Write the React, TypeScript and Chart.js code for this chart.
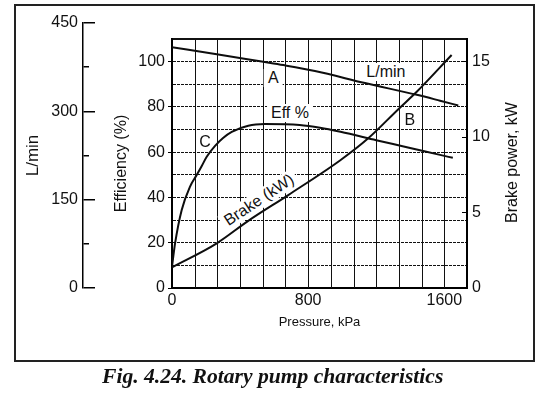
import React, { useEffect, useRef, useState } from "react";
import { Chart, registerables } from "chart.js";

Chart.register(...registerables);

// ---------------- data ----------------
// Efficiency curve C (%), against pressure (kPa)
const effPressure = [0, 18, 57, 106, 145, 174, 204, 253, 300, 351, 448, 546, 750, 870, 990, 1200, 1380, 1575, 1650];
const efficiency = [9.4, 19.7, 34.5, 44.8, 49.9, 53.8, 58, 62.8, 66.3, 69, 71.7, 72.4, 72, 70.8, 69, 65.3, 62.2, 58.8, 57.5];

// Brake power curve B (kW)
const brakePressure = [0, 263, 448, 683, 987, 1153, 1330, 1438, 1643];
const brakePower = [1.37, 2.96, 4.45, 6.16, 8.45, 9.92, 11.85, 13.0, 15.44];

// Flow curve A (L/min)
const flowPressure = [0, 263, 527, 654, 840, 1134, 1438, 1575, 1682];
const flowRate = [409, 397, 384.5, 378.5, 368.5, 348, 328, 318, 310];

// Axis ticks
const pressureGrid = Array.from({ length: 14 }, (_, i) => (i * 800) / 6);
const pressureLabelled = [0, 800, 1600];
const pressureMax = (13 * 800) / 6;
const effTicks = [0, 10, 20, 30, 40, 50, 60, 70, 80, 90, 100, 110];
const effLabelled = [0, 20, 40, 60, 80, 100];
const effMax = 110;
const brakeTicks = [0, 5, 10, 15];
const brakeMax = 16.5;
const flowTicks = [0, 75, 150, 225, 300, 375, 450];
const flowLabelled = [0, 150, 300, 450];
const flowMax = 450;

// Curve labels (anchored in pressure / efficiency units)
const curveLabels = [
  { text: "A", pressure: 595, eff: 92.6, angle: 0 },
  { text: "L/min", pressure: 1257, eff: 95.6, angle: 0 },
  { text: "Eff %", pressure: 693, eff: 77.5, angle: 0 },
  { text: "B", pressure: 1398, eff: 74.4, angle: 0 },
  { text: "C", pressure: 194, eff: 64.4, angle: 0 },
  { text: "Brake (kW)", pressure: 511, eff: 38.9, angle: -33.5 },
];
const unboxedLabels = ["B", "C"];

// ---------------- layout constants ----------------
const W = 548;
const H = 397;
const FLOW_W = 100;
const PLOT_TOP = 39;
const PLOT_BOTTOM = 288;
const FLOW_AXIS_TOP = 23;
const FONT = '"Liberation Sans", Arial, Helvetica, sans-serif';
const INK = "#111";
const GRID = "#111";

Chart.defaults.font.family = FONT;
Chart.defaults.color = INK;

const flowMaxInPlot = (flowMax * (PLOT_BOTTOM - PLOT_TOP)) / (PLOT_BOTTOM - FLOW_AXIS_TOP);

const near = (a: number, b: number) => Math.abs(a - b) < 1e-6;

const rightTitlePlugin = {
  id: "rightTitle",
  afterDraw(chart: any) {
    const s = chart.scales.yB;
    const { ctx, chartArea } = chart;
    ctx.save();
    ctx.translate(s.left + 46, (chartArea.top + chartArea.bottom) / 2 - 1);
    ctx.rotate(-Math.PI / 2);
    ctx.font = `16px ${FONT}`;
    ctx.textAlign = "center";
    ctx.textBaseline = "middle";
    ctx.fillStyle = INK;
    ctx.fillText("Brake power, kW", 0, 0);
    ctx.restore();
  },
};

const toPoints = (xs: number[], ys: number[]) => xs.map((x, i) => ({ x, y: ys[i] }));

const curveStyle = {
  borderColor: "#0d0d0d",
  borderWidth: 2,
  pointRadius: 0,
  fill: false,
  cubicInterpolationMode: "monotone" as const,
};

type Overlay = {
  lines: number[];
  top: number;
  bottom: number;
  labels: { text: string; x: number; y: number; angle: number }[];
};

export default function App() {
  const mainRef = useRef<HTMLCanvasElement>(null);
  const flowRef = useRef<HTMLCanvasElement>(null);
  const [overlay, setOverlay] = useState<Overlay | null>(null);

  useEffect(() => {
    const main = new Chart(mainRef.current as HTMLCanvasElement, {
      type: "line",
      data: {
        datasets: [
          { label: "Eff %", data: toPoints(effPressure, efficiency), yAxisID: "y", ...curveStyle },
          { label: "Brake (kW)", data: toPoints(brakePressure, brakePower), yAxisID: "yB", ...curveStyle },
          { label: "L/min", data: toPoints(flowPressure, flowRate), yAxisID: "yL", ...curveStyle },
        ],
      },
      options: {
        responsive: false,
        animation: false,
        devicePixelRatio: 1,
        parsing: false,
        layout: { padding: { left: 108, right: 21, top: PLOT_TOP, bottom: 63 } },
        plugins: { legend: { display: false }, tooltip: { enabled: false }, title: { display: false } },
        scales: {
          x: {
            type: "linear",
            min: 0,
            max: pressureMax,
            afterBuildTicks: (s: any) => {
              s.ticks = pressureGrid.map((v) => ({ value: v }));
            },
            afterFit: (s: any) => {
              s.height = 46;
            },
            ticks: {
              autoSkip: false,
              maxTicksLimit: 100,
              maxRotation: 0,
              padding: 3,
              font: { size: 16 },
              color: INK,
              callback: (v: any) => {
                const r = Math.round(Number(v));
                return pressureLabelled.some((p) => near(p, Number(v))) ? String(r) : "";
              },
            },
            grid: { display: false, drawTicks: false },
            border: { display: true, color: "#000", width: 2 },
            title: {
              display: true,
              text: "Pressure, kPa",
              font: { size: 13 },
              color: INK,
              padding: { top: 4, bottom: 4 },
            },
          },
          y: {
            type: "linear",
            position: "left",
            min: 0,
            max: effMax,
            afterBuildTicks: (s: any) => {
              s.ticks = effTicks.map((v) => ({ value: v }));
            },
            afterFit: (s: any) => {
              s.width = 64;
            },
            ticks: {
              maxTicksLimit: 100,
              padding: 3,
              font: { size: 16 },
              color: INK,
              callback: (v: any) => (effLabelled.includes(Number(v)) ? String(v) : ""),
            },
            grid: {
              color: GRID,
              lineWidth: (c: any) => (c.tick && c.tick.value === effMax ? 2 : 1),
              tickLength: 4,
              tickColor: (c: any) => (c.tick && effLabelled.includes(c.tick.value) ? "#000" : "rgba(0,0,0,0)"),
            },
            border: {
              color: "#000",
              width: 2,
              dash: (c: any) => (c.tick && (c.tick.value === effMax || c.tick.value === 0) ? [] : [3, 1]),
            },
            title: {
              display: true,
              text: "Efficiency (%)",
              font: { size: 16 },
              color: INK,
              padding: { top: 4, bottom: 4 },
            },
          },
          yB: {
            type: "linear",
            position: "right",
            min: 0,
            max: brakeMax,
            afterBuildTicks: (s: any) => {
              s.ticks = brakeTicks.map((v) => ({ value: v }));
            },
            afterFit: (s: any) => {
              s.width = 60;
            },
            ticks: { padding: 10, font: { size: 16 }, color: INK },
            grid: { drawOnChartArea: false, tickLength: -5, tickColor: "#000" },
            border: { color: "#000", width: 2 },
          },
          yL: {
            type: "linear",
            display: false,
            min: 0,
            max: flowMaxInPlot,
          },
        },
      },
      plugins: [rightTitlePlugin],
    } as any);

    // positions of the vertical grid and curve labels, taken from the chart's own scales
    const xs: any = main.scales.x;
    const ys: any = main.scales.y;
    const area = main.chartArea;
    setOverlay({
      lines: pressureGrid
        .filter((v) => !near(v, 0) && !near(v, pressureMax))
        .map((v) => Math.round(xs.getPixelForValue(v))),
      top: area.top,
      bottom: area.bottom,
      labels: curveLabels.map((l) => ({
        text: l.text,
        x: xs.getPixelForValue(l.pressure),
        y: ys.getPixelForValue(l.eff),
        angle: l.angle,
      })),
    });

    const flow = new Chart(flowRef.current as HTMLCanvasElement, {
      type: "line",
      data: { datasets: [] },
      options: {
        responsive: false,
        animation: false,
        devicePixelRatio: 1,
        layout: { padding: { left: 19, right: 1, top: FLOW_AXIS_TOP, bottom: H - PLOT_BOTTOM } },
        plugins: { legend: { display: false }, tooltip: { enabled: false } },
        scales: {
          x: { type: "linear", display: false, min: 0, max: 1 },
          y: {
            type: "linear",
            position: "left",
            min: 0,
            max: flowMax,
            afterBuildTicks: (s: any) => {
              s.ticks = flowTicks.map((v) => ({ value: v }));
            },
            afterFit: (s: any) => {
              s.width = 64;
            },
            ticks: {
              maxTicksLimit: 100,
              padding: 5,
              font: { size: 16 },
              color: INK,
              callback: (v: any) => (flowLabelled.includes(Number(v)) ? String(v) : ""),
            },
            grid: { drawTicks: false, color: "#000", lineWidth: 1.5 },
            border: { color: "#000", width: 1.5 },
            title: {
              display: true,
              text: "L/min",
              font: { size: 17 },
              color: INK,
              padding: { top: 4, bottom: 4 },
            },
          },
          y2: {
            type: "linear",
            position: "right",
            min: 0,
            max: flowMax,
            afterBuildTicks: (s: any) => {
              s.ticks = flowTicks.map((v) => ({ value: v }));
            },
            afterFit: (s: any) => {
              s.width = 10;
            },
            ticks: { display: false, maxTicksLimit: 100 },
            grid: {
              drawOnChartArea: false,
              tickLength: 6,
              lineWidth: 1.5,
              tickColor: (c: any) => (c.tick && flowLabelled.includes(c.tick.value) ? "#000" : "rgba(0,0,0,0)"),
            },
            border: { display: false },
          },
        },
      },
    } as any);

    return () => {
      main.destroy();
      flow.destroy();
    };
  }, []);

  return (
    <div
      style={{
        position: "fixed",
        left: 0,
        top: 0,
        width: W,
        height: H,
        background: "#fff",
        overflow: "hidden",
      }}
    >
      <div
        style={{
          position: "absolute",
          left: 14,
          top: 4,
          width: 521,
          height: 358,
          border: "2px solid #222",
          boxSizing: "border-box",
        }}
      />
      <canvas
        ref={mainRef}
        width={W}
        height={H}
        style={{ position: "absolute", left: 0, top: 0, width: W, height: H }}
      />
      {overlay &&
        overlay.lines.map((px, i) => (
          <div
            key={"g" + i}
            style={{
              position: "absolute",
              left: px,
              top: overlay.top,
              width: 1,
              height: overlay.bottom - overlay.top,
              background: GRID,
            }}
          />
        ))}
      {overlay &&
        overlay.labels.map((l, i) => (
          <div
            key={"l" + i}
            style={{
              position: "absolute",
              left: l.x,
              top: l.y,
              transform: `translate(-50%, -50%) rotate(${l.angle}deg)`,
              background: unboxedLabels.includes(l.text) ? "transparent" : "#fff",
              padding: "0 4px",
              font: `16px ${FONT}`,
              lineHeight: "18px",
              whiteSpace: "nowrap",
              color: INK,
            }}
          >
            {l.text}
          </div>
        ))}
      <canvas
        ref={flowRef}
        width={FLOW_W}
        height={H}
        style={{ position: "absolute", left: 0, top: 0, width: FLOW_W, height: H }}
      />
      <div
        style={{
          position: "absolute",
          left: 102,
          top: 366,
          font: 'italic bold 21.6px "Liberation Serif", "Times New Roman", serif',
          lineHeight: "21.6px",
          whiteSpace: "nowrap",
          color: INK,
        }}
      >
        Fig. 4.24. Rotary pump characteristics
      </div>
    </div>
  );
}
